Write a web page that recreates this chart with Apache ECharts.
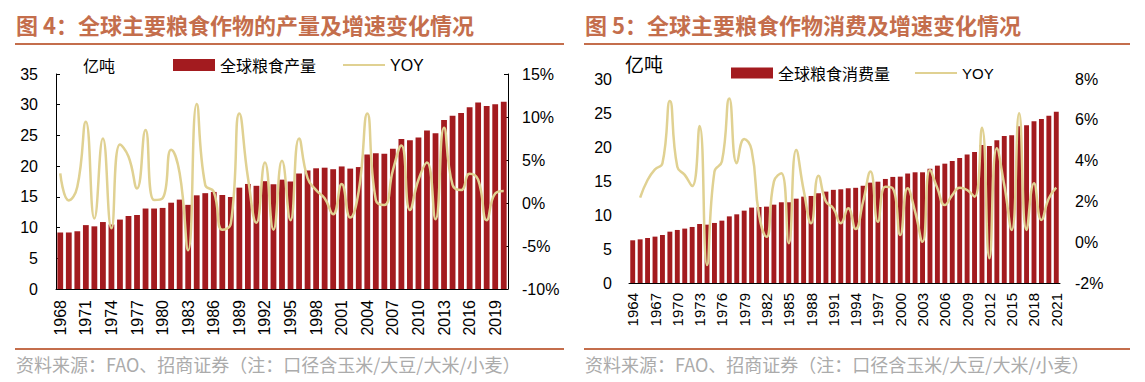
<!DOCTYPE html>
<html><head><meta charset="utf-8">
<script src="https://cdn.jsdelivr.net/npm/echarts@6/dist/echarts.min.js"></script>
<style>html,body{margin:0;padding:0;background:#fff}#c{width:1145px;height:382px}</style>
</head><body><div id="c"></div>
<script>
const prodYears = ['1968','1969','1970','1971','1972','1973','1974','1975','1976','1977','1978','1979','1980','1981','1982','1983','1984','1985','1986','1987','1988','1989','1990','1991','1992','1993','1994','1995','1996','1997','1998','1999','2000','2001','2002','2003','2004','2005','2006','2007','2008','2009','2010','2011','2012','2013','2014','2015','2016','2017','2018','2019','2020'];
const prodValues = [9.2,9.2,9.4,10.4,10.2,10.9,10.5,11.3,11.9,12.05,13.1,13.1,13.2,14.05,14.55,13.7,15.25,15.6,15.8,15.3,14.98,16.5,17.1,16.8,17.55,17.05,17.8,17.5,18.8,19.3,19.65,19.75,19.5,19.95,19.6,19.85,21.9,22.1,22.0,22.85,24.4,24.2,24.65,25.8,25.35,27.5,28.2,28.65,29.6,30.35,29.8,30.07,30.5];
const prodYoy = [3.45,0.3,1.9,9.45,-1.8,7.5,-2.95,6.8,5.4,1.7,8.5,0.35,0.55,6.2,3.45,-5.5,11.5,2.1,1.3,-3.1,-2.4,10.4,3.0,-2.3,4.7,-3.1,4.9,-2.0,7.5,2.9,1.5,0.55,-1.3,2.2,-1.7,1.4,10.4,0.35,-0.23,3.8,6.7,-0.8,2.7,4.7,-1.9,8.75,2.1,1.5,3.4,2.7,-2.0,1.1,1.4];

const consYears = ['1964','1965','1966','1967','1968','1969','1970','1971','1972','1973','1974','1975','1976','1977','1978','1979','1980','1981','1982','1983','1984','1985','1986','1987','1988','1989','1990','1991','1992','1993','1994','1995','1996','1997','1998','1999','2000','2001','2002','2003','2004','2005','2006','2007','2008','2009','2010','2011','2012','2013','2014','2015','2016','2017','2018','2019','2020','2021'];
const consValues = [6.28,6.42,6.62,6.82,7.06,7.55,7.8,8.0,8.24,8.68,8.58,8.83,9.17,9.8,10.1,10.64,11.09,11.18,11.23,11.52,11.87,11.87,12.4,12.7,12.8,13.2,13.44,13.7,13.78,13.93,14.0,14.3,14.76,14.9,15.3,15.6,15.64,16.1,16.28,16.28,16.8,17.26,17.55,17.94,18.38,18.88,19.27,20.3,20.15,20.98,21.62,21.72,23.05,23.2,23.78,24.1,24.6,25.2];
const consYoy = ['-',2.18,3.05,3.57,3.87,6.92,3.7,3.3,2.75,5.7,-1.12,3.46,3.95,7.05,3.87,5.06,4.52,1.33,0.27,2.97,3.38,-0.05,4.52,2.56,0.93,3.26,1.99,1.66,0.93,1.66,0.65,1.98,3.46,1.0,2.72,2.64,0.35,2.64,1.5,0.02,3.54,2.64,1.82,2.31,2.67,2.56,2.23,5.61,-0.79,4.6,2.8,0.6,6.32,0.6,2.89,1.09,2.15,2.67];

const leftTicks1 = [0, 35, 5];
const rightTicks1 = [-10, 15, 5];
const leftTicks2 = [0, 30, 5];
const rightTicks2 = [-2, 8, 2];

const title1 = '图 4：全球主要粮食作物的产量及增速变化情况';
const title2 = '图 5：全球主要粮食作物消费及增速变化情况';
const source = '资料来源：FAO、招商证券（注：口径含玉米/大豆/大米/小麦）';
const unit = '亿吨';

const NUM = 'Liberation Sans, Arial, sans-serif';
const CJK = 'Noto Sans CJK SC, sans-serif';
const RED = '#A31B1F', GOLD = '#E0D192', TCOL = '#C46E4C', GRAY = '#ABABAB';

const chart = echarts.init(document.getElementById('c'), null, {renderer: 'svg'});

function yAx(grid, t, pos, showLine, margin, pct, fs) {
  return {
    type: 'value', gridIndex: grid, position: pos, min: t[0], max: t[1], interval: t[2],
    axisLine: {show: showLine, lineStyle: {color: '#000', width: 1}},
    axisTick: {show: showLine, inside: true, length: 4, lineStyle: {color: '#000'}},
    splitLine: {show: false},
    axisLabel: {margin: margin, fontSize: fs, color: '#000', fontFamily: NUM,
      formatter: pct ? '{value}%' : '{value}'}
  };
}

const option = {
  animation: false,
  backgroundColor: '#fff',
  grid: [
    {left: 56, right: 637, top: 74, bottom: 93},
    {left: 629, right: 85, top: 79, bottom: 99}
  ],
  xAxis: [
    {type: 'category', gridIndex: 0, data: prodYears,
      axisLine: {lineStyle: {color: '#000', width: 1}},
      axisTick: {inside: true, length: 4, interval: 2, lineStyle: {color: '#555'}},
      axisLabel: {rotate: 90, interval: 2, margin: 11, fontSize: 16, color: '#000', fontFamily: NUM}},
    {type: 'category', gridIndex: 1, data: consYears,
      axisLine: {lineStyle: {color: '#000', width: 1}},
      axisTick: {inside: false, length: 4, interval: 0, lineStyle: {color: '#000'}},
      axisLabel: {rotate: 90, interval: 2, margin: 10, fontSize: 15, color: '#000', fontFamily: NUM}}
  ],
  yAxis: [
    yAx(0, leftTicks1, 'left', true, 18, false, 16),
    yAx(0, rightTicks1, 'right', true, 14, true, 16),
    yAx(1, leftTicks2, 'left', false, 17, false, 16),
    yAx(1, rightTicks2, 'right', false, 15, true, 16)
  ],
  legend: [
    {left: 168, top: 52, itemWidth: 42, itemHeight: 12, itemGap: 26,
      textStyle: {fontSize: 16, color: '#000', fontFamily: CJK},
      data: [{name: '全球粮食产量', icon: 'rect'},
             {name: 'YOY', itemStyle: {opacity: 0}, textStyle: {fontFamily: NUM, fontSize: 16}}]},
    {left: 726, top: 60, itemWidth: 42, itemHeight: 11, itemGap: 24,
      textStyle: {fontSize: 16, color: '#000', fontFamily: CJK},
      data: [{name: '全球粮食消费量', icon: 'rect'},
             {name: 'YOY', itemStyle: {opacity: 0}, textStyle: {fontFamily: 'Liberation Sans Narrow, Arial Narrow, sans-serif', fontSize: 15}}]}
  ],
  series: [
    {name: '全球粮食产量', type: 'bar', xAxisIndex: 0, yAxisIndex: 0, data: prodValues,
      barWidth: '68%', itemStyle: {color: RED}},
    {name: 'YOY', type: 'line', xAxisIndex: 0, yAxisIndex: 1, data: prodYoy, smooth: 0.5,
      symbol: 'none', lineStyle: {color: GOLD, width: 2.5}, itemStyle: {color: GOLD}},
    {name: '全球粮食消费量', type: 'bar', xAxisIndex: 1, yAxisIndex: 2, data: consValues,
      barWidth: '66%', itemStyle: {color: RED}},
    {name: 'YOY', type: 'line', xAxisIndex: 1, yAxisIndex: 3, data: consYoy, smooth: 0.5,
      symbol: 'none', lineStyle: {color: GOLD, width: 2.5}, itemStyle: {color: GOLD}}
  ],
  graphic: [
    {type: 'text', left: 16, top: 13, style: {text: title1, fontSize: 22, fontWeight: 'bold', fill: TCOL, fontFamily: CJK}},
    {type: 'text', left: 585, top: 13, style: {text: title2, fontSize: 22, fontWeight: 'bold', fill: TCOL, fontFamily: CJK}},
    {type: 'line', shape: {x1: 15, y1: 44, x2: 564, y2: 44}, style: {stroke: TCOL, lineWidth: 2}},
    {type: 'line', shape: {x1: 584, y1: 44, x2: 1130, y2: 44}, style: {stroke: TCOL, lineWidth: 2}},
    {type: 'line', shape: {x1: 15, y1: 349, x2: 564, y2: 349}, style: {stroke: TCOL, lineWidth: 2}},
    {type: 'line', shape: {x1: 584, y1: 349, x2: 1130, y2: 349}, style: {stroke: TCOL, lineWidth: 2}},
    {type: 'text', left: 16, top: 355, style: {text: source, fontSize: 18, fill: GRAY, fontFamily: CJK}},
    {type: 'text', left: 585, top: 355, style: {text: source, fontSize: 18, fill: GRAY, fontFamily: CJK}},
    {type: 'text', left: 83, top: 57, style: {text: unit, fontSize: 16, fill: '#000', fontFamily: CJK}},
    {type: 'text', left: 625, top: 54, style: {text: unit, fontSize: 19, fill: '#000', fontFamily: CJK}}
  ]
};
chart.setOption(option);
</script></body></html>
